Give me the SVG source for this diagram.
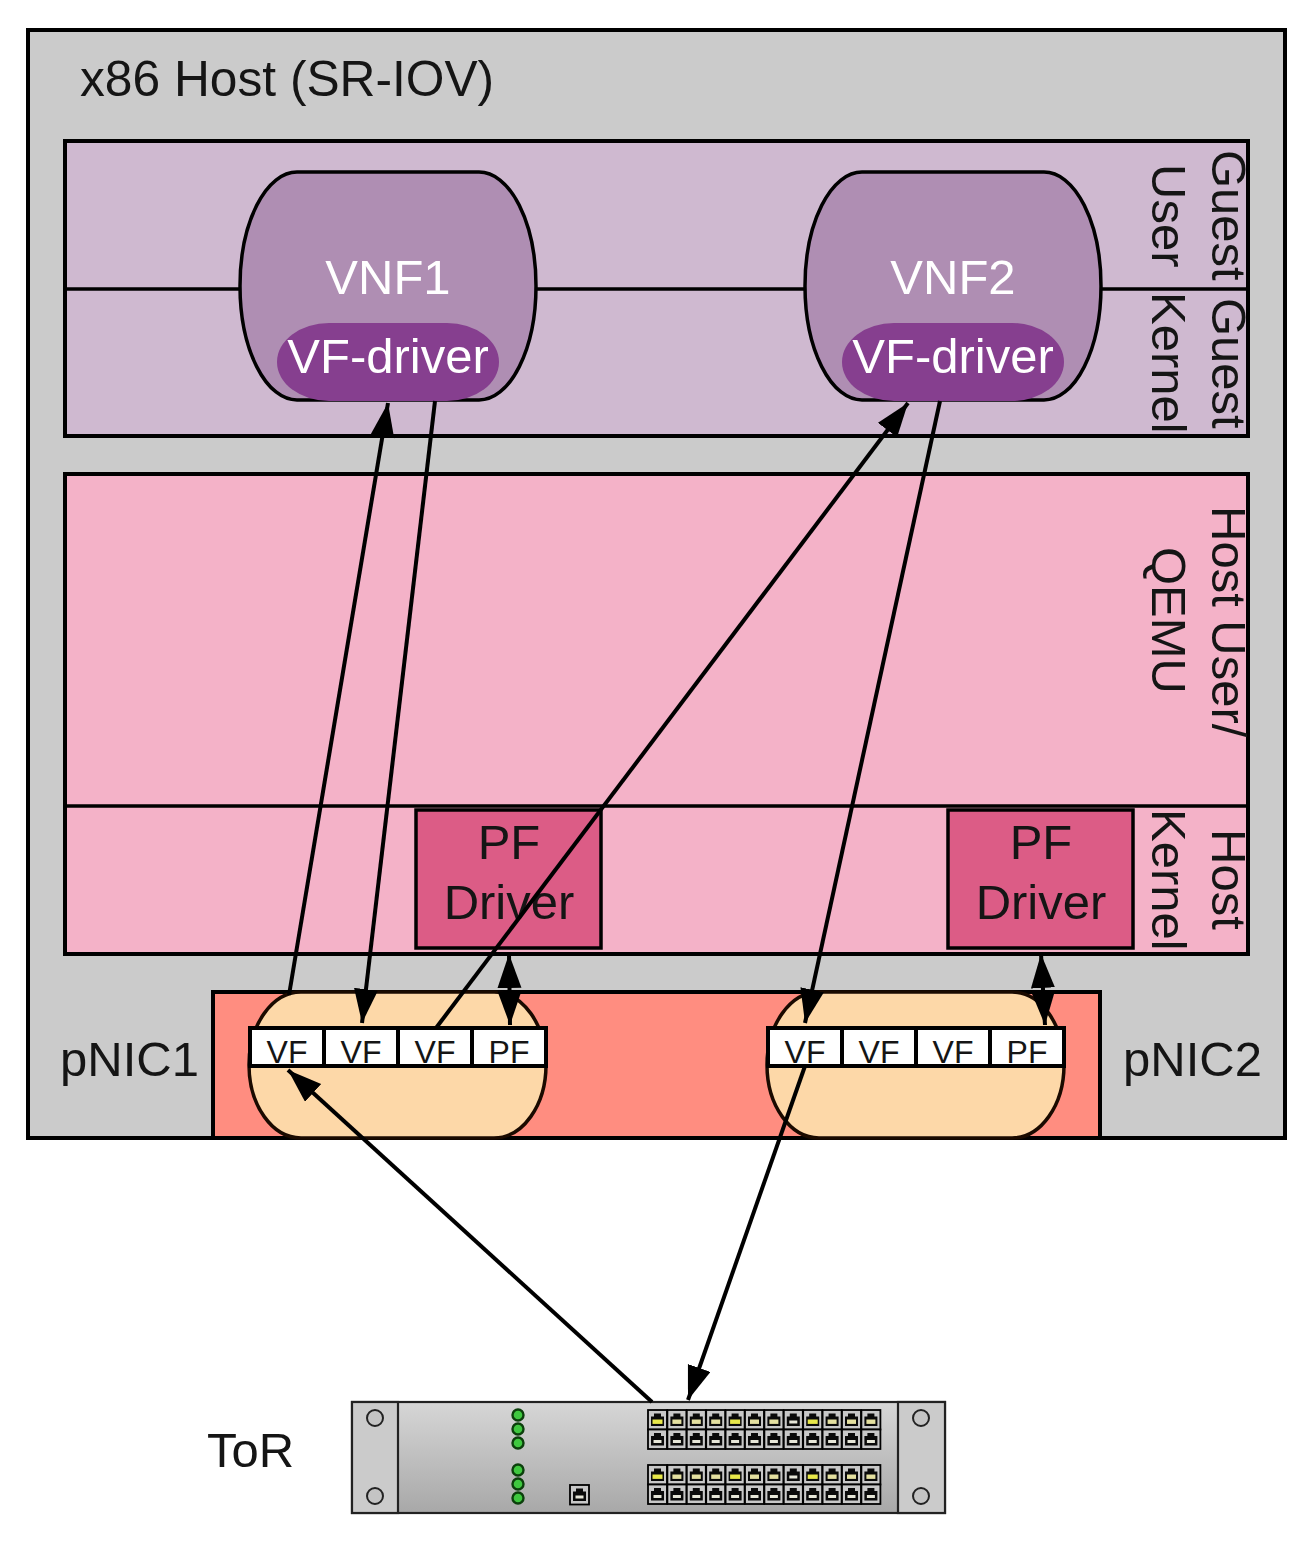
<svg xmlns="http://www.w3.org/2000/svg" xmlns:xlink="http://www.w3.org/1999/xlink" width="1314" height="1541" viewBox="0 0 1314 1541">
<style>
text{font-family:"Liberation Sans",Arial,sans-serif;font-size:49px;fill:#151515}
.w{fill:#fff}.c{text-anchor:middle}.s{font-size:32px}
.b{stroke:#000;stroke-width:4}
.l{stroke:#000;stroke-width:3.5;fill:none}
.a{stroke:#000;stroke-width:4;fill:none}
.h{marker-end:url(#ah)}.d{marker-start:url(#ah);marker-end:url(#ah)}
.cell{fill:#fff;stroke:#000;stroke-width:4}
.pill{fill:#fdd8a8;stroke:#1a0a00;stroke-width:3.5}
.vnf{fill:#af8eb3;stroke:#000;stroke-width:3.5}
.drv{fill:#863f8f}
.pf{fill:#dc5c86;stroke:#000;stroke-width:3.5}
.ear{fill:#cbcbcb;stroke:#222;stroke-width:2.2}
.hole{fill:#c4c4c4;stroke:#222;stroke-width:2}
.led{fill:#3fc83f;stroke:#0c400c;stroke-width:2.4}
.sock{fill:#c8c8c8;stroke:#000;stroke-width:1.8}
</style>
<defs>
<marker id="ah" markerUnits="userSpaceOnUse" markerWidth="36" markerHeight="26" refX="34" refY="12" orient="auto-start-reverse"><path d="M0 0L34 12L0 24Z" fill="#000"/></marker>
<linearGradient id="sw" x1="0" y1="0" x2="0" y2="1"><stop offset="0" stop-color="#d6d6d6"/><stop offset="1" stop-color="#a8a8a8"/></linearGradient>
<g id="jk"><rect x="0" y="0" width="19" height="19.5" class="sock"/><path d="M6 3.5H13V6.5H16V16H3V6.5H6Z" fill="#0a0a0a"/></g>
<g id="jy"><use href="#jk"/><rect x="4.5" y="9.5" width="10" height="4.4" fill="#e8e84a"/></g>
<g id="jp"><use href="#jk"/><rect x="5" y="9.5" width="9" height="4.4" fill="#e4e0a0"/></g>
<g id="jw"><use href="#jk"/><rect x="5.5" y="10.5" width="8" height="3" fill="#e6e6d8"/></g>
<g id="block">
<use href="#jy" x="0"/><use href="#jp" x="19.4"/><use href="#jp" x="38.8"/><use href="#jp" x="58.2"/><use href="#jy" x="77.6"/><use href="#jp" x="97"/><use href="#jp" x="116.4"/><use href="#jw" x="135.8"/><use href="#jy" x="155.2"/><use href="#jp" x="174.6"/><use href="#jp" x="194"/><use href="#jp" x="213.4"/>
<g transform="translate(0,19.5)"><use href="#jw" x="0"/><use href="#jw" x="19.4"/><use href="#jw" x="38.8"/><use href="#jw" x="58.2"/><use href="#jw" x="77.6"/><use href="#jw" x="97"/><use href="#jw" x="116.4"/><use href="#jw" x="135.8"/><use href="#jw" x="155.2"/><use href="#jw" x="174.6"/><use href="#jw" x="194"/><use href="#jw" x="213.4"/></g>
</g>
<path id="vnfshape" d="M57 0H239A57 114 0 0 1 239 228H57A57 114 0 0 1 57 0Z"/>
</defs>
<rect width="1314" height="1541" fill="#fff"/>
<g id="host">
<rect x="28" y="30" width="1257" height="1108" fill="#cbcbcb" class="b"/>
<text x="80" y="96" style="font-size:49.7px">x86 Host (SR-IOV)</text>
</g>
<g id="guest">
<rect x="65" y="141" width="1183" height="295" fill="#cfb9d0" class="b"/>
<line x1="65" y1="289" x2="1248" y2="289" class="l"/>
<text transform="translate(1212,150) rotate(90)">Guest</text>
<text transform="translate(1212,298) rotate(90)">Guest</text>
<text transform="translate(1152,164) rotate(90)">User</text>
<text transform="translate(1152,292) rotate(90)">Kernel</text>
</g>
<g id="hostspace">
<rect x="65" y="474" width="1183" height="480" fill="#f4b2c8" class="b"/>
<line x1="65" y1="806" x2="1248" y2="806" class="l"/>
<text transform="translate(1212,506) rotate(90)">Host User/</text>
<text transform="translate(1152,547) rotate(90)">QEMU</text>
<text transform="translate(1212,829) rotate(90)">Host</text>
<text transform="translate(1152,809) rotate(90)">Kernel</text>
</g>
<g id="vnf1">
<use href="#vnfshape" x="240" y="172" class="vnf"/>
<rect x="277" y="323" width="222" height="78" rx="52" ry="39" class="drv"/>
<text x="388" y="294" class="w c">VNF1</text>
<text x="388" y="373" class="w c">VF-driver</text>
</g>
<g id="vnf2">
<use href="#vnfshape" x="805" y="172" class="vnf"/>
<rect x="842" y="323" width="222" height="78" rx="52" ry="39" class="drv"/>
<text x="953" y="294" class="w c">VNF2</text>
<text x="953" y="373" class="w c">VF-driver</text>
</g>
<g id="pf1">
<rect x="416" y="810" width="185" height="138" class="pf"/>
<text x="509" y="859" class="c">PF</text>
<text x="509" y="919" class="c">Driver</text>
</g>
<g id="pf2">
<rect x="948" y="810" width="185" height="138" class="pf"/>
<text x="1041" y="859" class="c">PF</text>
<text x="1041" y="919" class="c">Driver</text>
</g>
<g id="pnicbar">
<rect x="213" y="992" width="887" height="146" fill="#ff8d80" class="b"/>
<text x="60" y="1076">pNIC1</text>
<text x="1123" y="1076">pNIC2</text>
</g>
<g id="pnic1">
<rect x="249" y="992" width="297" height="146" rx="52" ry="73" class="pill"/>
<rect x="250" y="1028" width="74" height="38" class="cell"/><rect x="324" y="1028" width="74" height="38" class="cell"/><rect x="398" y="1028" width="74" height="38" class="cell"/><rect x="472" y="1028" width="74" height="38" class="cell"/>
<text x="287" y="1063" class="c s">VF</text><text x="361" y="1063" class="c s">VF</text><text x="435" y="1063" class="c s">VF</text><text x="509" y="1063" class="c s">PF</text>
</g>
<g id="pnic2">
<rect x="767" y="992" width="297" height="146" rx="52" ry="73" class="pill"/>
<rect x="768" y="1028" width="74" height="38" class="cell"/><rect x="842" y="1028" width="74" height="38" class="cell"/><rect x="916" y="1028" width="74" height="38" class="cell"/><rect x="990" y="1028" width="74" height="38" class="cell"/>
<text x="805" y="1063" class="c s">VF</text><text x="879" y="1063" class="c s">VF</text><text x="953" y="1063" class="c s">VF</text><text x="1027" y="1063" class="c s">PF</text>
</g>
<g id="tor">
<text x="207" y="1467">ToR</text>
<rect x="352" y="1402" width="593" height="111" fill="url(#sw)" stroke="#222" stroke-width="2.2"/>
<rect x="352" y="1402" width="46" height="111" class="ear"/>
<rect x="898" y="1402" width="47" height="111" class="ear"/>
<circle cx="375" cy="1418" r="8" class="hole"/><circle cx="375" cy="1496" r="8" class="hole"/>
<circle cx="921" cy="1418" r="8" class="hole"/><circle cx="921" cy="1496" r="8" class="hole"/>
<circle cx="518" cy="1415" r="5.5" class="led"/><circle cx="518" cy="1429" r="5.5" class="led"/><circle cx="518" cy="1443" r="5.5" class="led"/>
<circle cx="518" cy="1470" r="5.5" class="led"/><circle cx="518" cy="1484" r="5.5" class="led"/><circle cx="518" cy="1498" r="5.5" class="led"/>
<use href="#jw" transform="translate(570,1485)"/>
<use href="#block" x="648" y="1410"/>
<use href="#block" x="648" y="1465"/>
</g>
<g id="connectors">
<line x1="289" y1="995" x2="388" y2="403" class="a h"/>
<line x1="435" y1="401" x2="362" y2="1023" class="a h"/>
<line x1="436" y1="1028" x2="908" y2="403" class="a h"/>
<line x1="940" y1="401" x2="805" y2="1023" class="a h"/>
<line x1="652" y1="1402" x2="288" y2="1070" class="a h"/>
<line x1="805" y1="1066" x2="688" y2="1400" class="a h"/>
<line x1="509" y1="954" x2="510" y2="1025" class="a d"/>
<line x1="1041" y1="954" x2="1045" y2="1025" class="a d"/>
</g>
</svg>
